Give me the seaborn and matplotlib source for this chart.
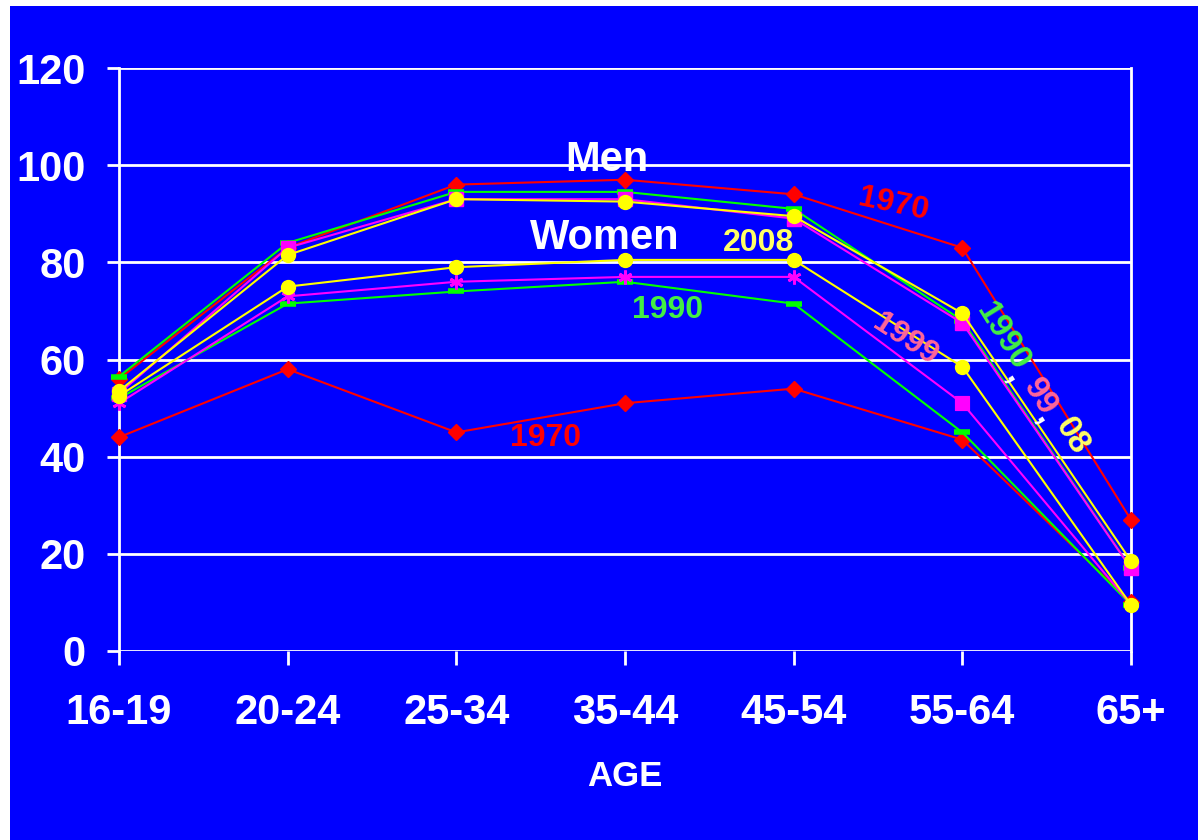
import numpy as np
import pandas as pd
import matplotlib
matplotlib.use("Agg")
import matplotlib.pyplot as plt
import seaborn as sns
from matplotlib.patches import Rectangle

# age groups on the x axis
ages = ['16-19', '20-24', '25-34', '35-44', '45-54', '55-64', '65+']

# labour force participation, men
men_1970 = [56, 83, 96, 97, 94, 83, 27]
men_1990 = [56.5, 84, 94.5, 94.5, 91, 68, 17]
men_1999 = [53, 83, 93, 93, 89, 67.5, 17]
men_2008 = [53.5, 81.5, 93, 92.5, 89.5, 69.5, 18.5]

# labour force participation, women
women_1970 = [44, 58, 45, 51, 54, 43.5, 10]
women_1990 = [52, 71.5, 74, 76, 71.5, 45, 9.5]
women_1999 = [51, 73, 76, 77, 77, 51, 9.5]
women_2008 = [52.5, 75, 79, 80.5, 80.5, 58.5, 9.5]

yticks = [0, 20, 40, 60, 80, 100, 120]

BLUE = '#0000FF'
series = [
    # name, values, colour, marker, marker size, marker edge width
    ('Men 1970', men_1970, '#FF0000', 'D', 8, 1),
    ('Women 1970', women_1970, '#FF0000', 'D', 8, 1),
    ('Men 1990', men_1990, '#00FF00', '_', 11, 4),
    ('Women 1990', women_1990, '#00FF00', '_', 11, 4),
    ('Men 1999', men_1999, '#FF00FF', 's', 10, 1),
    ('Women 1999', women_1999, '#FF00FF', (6, 2, 0), 10, 2),
    ('Men 2008', men_2008, '#FFFF00', 'o', 10, 1),
    ('Women 2008', women_2008, '#FFFF00', 'o', 10, 1),
]

df = pd.concat([
    pd.DataFrame({'age': ages, 'value': vals, 'series': name})
    for name, vals, *_ in series
], ignore_index=True)

sns.set_style('white')
plt.rcParams['font.family'] = ['Liberation Sans', 'DejaVu Sans']
plt.rcParams['font.weight'] = 'bold'

fig = plt.figure(figsize=(11.98, 8.4), dpi=100, facecolor='white')
fig.add_artist(Rectangle((10 / 1198, 0), 1, 1 - 6 / 840, transform=fig.transFigure,
                         facecolor=BLUE, edgecolor='none', zorder=-10))
ax = fig.add_axes([119 / 1198, 1 - 651 / 840, (1131 - 119) / 1198, (651 - 68) / 840])
ax.set_facecolor(BLUE)

for name, vals, color, marker, ms, mew in series:
    sub = df[df['series'] == name]
    sns.lineplot(data=sub, x='age', y='value', ax=ax, color=color, lw=1.5,
                 marker=marker, markersize=ms, markeredgewidth=mew,
                 markeredgecolor=color, markerfacecolor=color, sort=False,
                 zorder=3, clip_on=False)

# the 55-64 point of women 1999 is drawn with a square in the original
sub = df[(df['series'] == 'Women 1999') & (df['age'] == '55-64')]
sns.scatterplot(data=sub, x='age', y='value', ax=ax, color='#FF00FF', marker='s',
                s=110, edgecolor='#FF00FF', zorder=4)

ax.set_xlim(0, len(ages) - 1)
ax.set_ylim(0, 120)
ax.set_yticks(yticks)
ax.set_xticks(range(len(ages)))
ax.set_xticklabels(ages)
ax.yaxis.grid(True, color='white', lw=2)
ax.set_axisbelow(True)
for side in ['top', 'bottom']:
    ax.spines[side].set_visible(False)
ax.spines['left'].set_color('white')
ax.spines['left'].set_linewidth(2)
ax.spines['right'].set_color('white')
ax.spines['right'].set_linewidth(2)
ax.tick_params(axis='y', colors='white', labelsize=30, length=9, width=2, pad=15, left=True)
ax.tick_params(axis='x', colors='white', labelsize=30, length=10, width=2, pad=20, bottom=True)
for lbl in ax.get_xticklabels() + ax.get_yticklabels():
    lbl.set_fontweight('bold')
ax.set_xlabel('AGE', color='white', fontsize=25, fontweight='bold', labelpad=20)
ax.set_ylabel('')
leg = ax.get_legend()
if leg is not None:
    leg.remove()

# labels inside the plot
ax.text(2.89, 101.0, 'Men', color='white', fontsize=30, fontweight='bold', ha='center', va='center')
ax.text(2.88, 85.0, 'Women', color='white', fontsize=30, fontweight='bold', ha='center', va='center')
ax.text(3.79, 84, '2008', color='#FFFF66', fontsize=23, fontweight='bold', ha='center', va='center')
ax.text(3.25, 70.2, '1990', color='#44EE44', fontsize=23, fontweight='bold', ha='center', va='center')
ax.text(2.53, 43.8, '1970', color='#FF0000', fontsize=23, fontweight='bold', ha='center', va='center')
ax.text(4.59, 91.8, '1970', color='#FF0000', fontsize=23, fontweight='bold', ha='center', va='center',
        rotation=-12, rotation_mode='anchor')
ax.text(4.66, 64, '1999', color='#FF6699', fontsize=23, fontweight='bold', ha='center', va='center',
        rotation=-33, rotation_mode='anchor')

pieces = [
    ('1990', '#44EE44', 5.24, 64.6),
    (',', 'white', 5.31, 56.5),
    ('99', '#FF6699', 5.46, 52.3),
    (',', 'white', 5.49, 47.9),
    ('08', '#FFFF66', 5.65, 44.2),
]
for txt, col, xx, yy in pieces:
    ax.text(xx, yy, txt, color=col, fontsize=24, fontweight='bold', ha='center', va='center',
            rotation=-58, rotation_mode='anchor')

fig.savefig('out.png', dpi=100, facecolor=fig.get_facecolor())
